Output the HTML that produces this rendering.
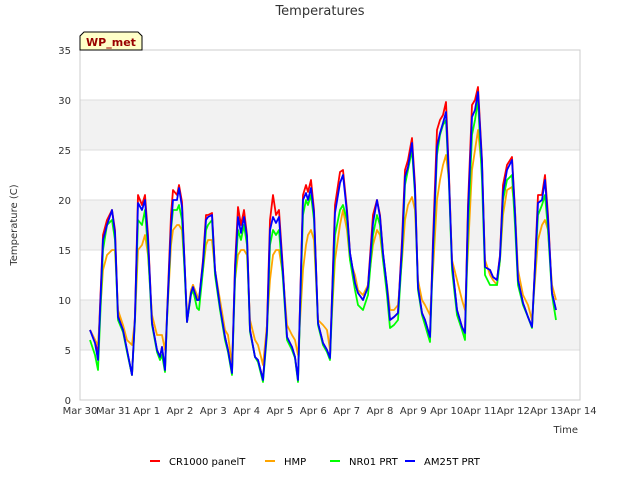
<!DOCTYPE html>
<html><head><meta charset="utf-8"><style>
body{margin:0;background:#fff;font-family:"Liberation Sans","DejaVu Sans",sans-serif}
svg text{font-family:"DejaVu Sans","Liberation Sans",sans-serif}
</style></head><body>
<svg id="chart" width="640" height="480" xmlns="http://www.w3.org/2000/svg">
<rect x="0" y="0" width="640" height="480" fill="#fff"/>
<text x="320" y="15" font-size="13" fill="#333" text-anchor="middle">Temperatures</text>
<g id="bands"></g>
<g id="grid"></g>
<rect x="80" y="50" width="500" height="350" fill="none" stroke="#ccc"/>
<g id="yticks" font-size="10" fill="#333"></g>
<g id="xticks" font-size="10" fill="#333"></g>
<g id="series"></g>
<text transform="translate(17,225) rotate(-90)" font-size="10" fill="#333" text-anchor="middle">Temperature (C)</text>
<text x="578" y="433" font-size="10" fill="#333" text-anchor="end">Time</text>
<g>
<path d="M80,50 L80,36 L84,32 L138,32 L142,36 L142,50 Z" fill="#ffffc8" stroke="#000" stroke-width="1"/>
<text x="111" y="46" font-size="11" font-weight="bold" fill="#990000" text-anchor="middle">WP_met</text>
</g>
<g id="legend" font-size="10" fill="#000"></g>
</svg>
<script>
const yTicks=[0,5,10,15,20,25,30,35];
const xTickLabels=["Mar 30","Mar 31","Apr 1","Apr 2","Apr 3","Apr 4","Apr 5","Apr 6","Apr 7","Apr 8","Apr 9","Apr 10","Apr 11","Apr 12","Apr 13","Apr 14"];
const seriesNames=["CR1000 panelT","HMP","NR01 PRT","AM25T PRT"];
const times=[0.30,0.45,0.54,0.69,0.81,0.96,
1.05,1.14,1.29,1.41,1.56,1.65,1.74,1.86,1.95,
2.04,2.16,2.31,2.40,2.46,2.55,2.61,2.73,2.79,2.91,2.97,
3.06,3.15,3.21,3.33,3.39,3.51,3.57,3.69,3.78,3.84,3.96,
4.05,4.20,4.35,4.44,4.56,4.65,4.74,4.83,4.92,
5.01,5.10,5.25,5.34,5.49,5.61,5.70,5.79,5.88,5.97,
6.09,6.21,6.36,6.45,6.54,6.69,6.78,6.84,6.93,
7.02,7.14,7.29,7.41,7.50,7.65,7.80,7.89,
8.01,8.10,8.25,8.34,8.49,8.64,8.79,8.91,
9.00,9.09,9.21,9.30,9.42,9.54,9.66,9.75,9.84,9.96,
10.05,10.14,10.26,10.35,10.50,10.59,10.71,10.80,10.89,10.98,
11.07,11.16,11.31,11.46,11.55,11.64,11.76,11.85,11.94,
12.06,12.15,12.30,12.39,12.51,12.60,12.69,12.81,12.96,
13.05,13.14,13.29,13.44,13.56,13.65,13.74,13.86,13.95,
14.04,14.16,14.28];
const cr1000=[7,6,4.5,16.5,18,19,
17,8.5,7,5,2.5,8.5,20.5,19.5,20.5,
16.5,7.7,5,4.3,5.3,3,8.5,18.5,21,20.5,21.5,
19.8,12.7,7.8,10.8,11.5,10,10,14,18.5,18.5,18.7,
13,9.3,6.3,5,2.7,13.5,19.3,17.5,19,
16.5,7,4.3,4,2,7.5,18,20.5,18.5,19,
13,6.3,5.3,4.3,2,20.5,21.5,20.8,22,
19,7.7,5.7,5,4.2,19.5,22.8,23,
19,14.7,11.7,10.7,10,11.5,18.5,20,
18.5,14.7,11.3,8,8.3,8.7,16,23,24,26.2,
21.5,11.3,8.7,8,6.3,16,27,28,28.5,29.8,
22.5,13.7,9,7.3,6.7,19.5,29.5,30,31.3,
24,13.3,13,12.3,12,14.5,21.5,23.5,24.3,
19,12,9.7,8.3,7.3,13.5,20.5,20.5,22.5,
18.5,10.7,9];
const hmp=[7,6,5.5,13,14.5,15,
15,9,7.5,6,5.5,8,15,15.5,16.5,
14.5,8.5,6.5,6.5,6.5,5,8,15.5,17,17.5,17.5,
17,12.5,8,11,11.5,10.5,10,13,15.5,16,16,
13,10,7,6.5,3.5,12,14.5,15,15,
14.5,8,6,5.5,3.5,7.5,12,14.5,15,15,
12.5,7.5,6.5,6,4.5,13,15.5,16.5,17,
16,8,7.5,7,5,14,17.5,19,
17,14,12.5,11,10.5,11.5,15.5,17,
16.5,14,11.5,9,9,9.5,14,18,19.5,20.3,
19,12,10,9.5,8.5,13,20,22,23.5,24.5,
22,14,12,10,9,15,23,25,27,
23,14,12.5,12,11.5,14,18.5,21,21.3,
19,13,10.5,9.5,8,12,16,17.5,18,
17,11.5,10];
const nr01=[6,4.5,3,15,17.5,18,
16,8,6.8,4.8,2.5,8,18,17.5,19,
15,7.5,4.8,4,4.5,2.8,8,17,19,19,19.5,
18,12,7.8,10.5,11,9.2,9,13,17,17.5,18,
12.5,9,6,4.8,2.5,12,17,16,17.5,
15.5,6.8,4.3,3.8,1.8,6.5,15.5,17,16.5,17,
12,6,5,4.2,1.8,18.5,20,19.5,20.5,
18,7.5,5.5,4.8,4,16.5,19,19.5,
18,14,11,9.5,9,10.5,16.5,18.5,
17.5,14,10.5,7.2,7.5,8,14.5,21.5,23,25,
20.5,11,8.5,7.5,5.8,14.5,24.5,26.5,27.5,28,
21.5,13,8.5,7,6,17,26.5,28,30,
22,12.5,11.5,11.5,11.5,14,20,22,22.5,
17.5,11.5,9.5,8.3,7.2,13,18.5,19.5,20.5,
17,10.5,8];
const am25t=[7,5.7,4,16,17.5,19,
16.7,8.3,7,5,2.5,8.3,19.7,19,20,
16,7.7,5,4.3,5.3,3,8.3,17.3,20,20,21.2,
19.3,12.7,7.8,10.7,11.3,10,10,13.7,18,18.3,18.5,
13,9.3,6.3,5,2.7,13,18.3,16.7,18.3,
16.3,7,4.3,4,2,7,17,18.3,17.7,18.3,
12.7,6.3,5.3,4.3,2,20,20.7,20,21.2,
18.7,7.7,5.7,5,4.2,18.7,21.7,22.5,
18.7,14.7,11.7,10.7,10,11.3,17.7,20,
18.3,14.7,11.3,8,8.3,8.7,15.3,22.3,23.3,25.7,
21,11.3,8.7,8,6.3,15.3,25.3,26.7,27.7,28.8,
22,13.7,9,7.3,6.7,18.7,28.3,29,30.8,
23.7,13.3,13,12.3,12,14.3,20.7,23,24,
18.7,12,9.7,8.3,7.3,13.3,19.7,20,22,
18,10.7,9];

const NS="http://www.w3.org/2000/svg";
const X0=80,X1=580,Y0=400,Y1=50;
const xScale=t=>X0+(t/15)*(X1-X0);
const yScale=v=>Y0-(v/35)*(Y0-Y1);
function mk(tag,attrs,parent){const e=document.createElementNS(NS,tag);for(const k in attrs)e.setAttribute(k,attrs[k]);parent.appendChild(e);return e;}
const bands=document.getElementById('bands'),grid=document.getElementById('grid');
for(let i=0;i<yTicks.length-1;i++){
  if(i%2===1){const r=mk('rect',{x:X0,y:yScale(yTicks[i+1]),width:X1-X0,height:yScale(yTicks[i])-yScale(yTicks[i+1]),fill:'#f2f2f2'},bands);
  
  }
}
const yt=document.getElementById('yticks');
yTicks.forEach(v=>{
  const l=mk('line',{x1:X0,x2:X1,y1:yScale(v),y2:yScale(v),stroke:'#ddd'},grid);
  
  
  const t=mk('text',{x:71,y:yScale(v)+4,'text-anchor':'end'},yt);t.textContent=v;
  
  
});
const xt=document.getElementById('xticks');
xTickLabels.forEach((s,i)=>{
  const t=mk('text',{x:xScale(i),y:414,'text-anchor':'middle'},xt);t.textContent=s;
  
  
});
const colors=['#ff0000','#ffa500','#00ff00','#0000ff'];
const data=[cr1000,hmp,nr01,am25t];
const sg=document.getElementById('series');
data.forEach((arr,si)=>{
  const pts=arr.map((v,i)=>xScale(times[i]).toFixed(1)+','+yScale(v).toFixed(1)).join(' ');
  const p=mk('polyline',{points:pts,fill:'none',stroke:colors[si],'stroke-width':1.8,'stroke-linejoin':'round'},sg);
  
  
});
const lg=document.getElementById('legend');
const lx=[150,265,330,405];
seriesNames.forEach((n,i)=>{
  const g=mk('g',{},lg);
  
  
  mk('line',{x1:lx[i],x2:lx[i]+10,y1:461,y2:461,stroke:colors[i],'stroke-width':2},g);
  const t=mk('text',{x:lx[i]+19,y:465},g);t.textContent=n;
});
</script>
</body></html>
